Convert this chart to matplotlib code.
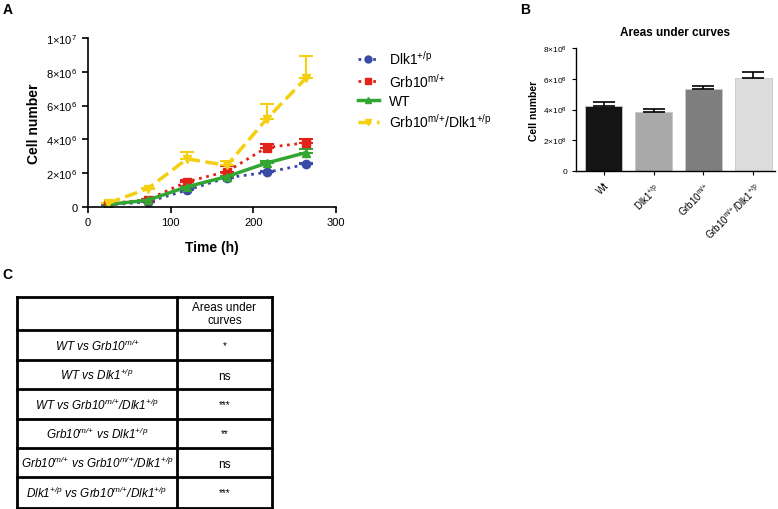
import matplotlib
matplotlib.use("Agg")
import matplotlib.pyplot as plt
from matplotlib.lines import Line2D
import numpy as np

plt.rcParams['font.family'] = ['Liberation Sans', 'DejaVu Sans']
plt.rcParams['mathtext.fontset'] = 'custom'
plt.rcParams['mathtext.rm'] = 'Liberation Sans'
plt.rcParams['mathtext.it'] = 'Liberation Sans:italic'
plt.rcParams['mathtext.bf'] = 'Liberation Sans:bold'
plt.rcParams['mathtext.default'] = 'regular'

# ---- data: panel A (growth curves) ----
time_h = [24, 72, 120, 168, 216, 264]
dlk1 = [0.12e6, 0.30e6, 1.00e6, 1.73e6, 2.05e6, 2.52e6]
dlk1_err = [0.0, 0.0, 0.05e6, 0.05e6, 0.08e6, 0.08e6]
grb10 = [0.20e6, 0.43e6, 1.50e6, 2.10e6, 3.52e6, 3.80e6]
grb10_err = [0.0, 0.05e6, 0.10e6, 0.30e6, 0.20e6, 0.22e6]
wt = [0.15e6, 0.40e6, 1.20e6, 1.80e6, 2.60e6, 3.22e6]
wt_err = [0.0, 0.0, 0.05e6, 0.05e6, 0.10e6, 0.20e6]
dko = [0.22e6, 1.08e6, 2.85e6, 2.46e6, 5.20e6, 7.64e6]
dko_err = [0.0, 0.05e6, 0.40e6, 0.25e6, 0.90e6, 1.30e6]

series_labels = ['Dlk1$^{+/p}$', 'Grb10$^{m/{+}}$', 'WT', 'Grb10$^{m/{+}}$/Dlk1$^{+/p}$']
a_yticks = [0, 2e6, 4e6, 6e6, 8e6, 1e7]
a_yticklabels = ['0', '2×10$^6$', '4×10$^6$', '6×10$^6$', '8×10$^6$', '1×10$^7$']

# ---- data: panel B (areas under curves) ----
auc_groups = ['Wt', 'Dlk1$^{+/p}$', 'Grb10$^{m/{+}}$', 'Grb10$^{m/{+}}$/Dlk1$^{+/p}$']
auc_values = [4.25e8, 3.86e8, 5.32e8, 6.04e8]
auc_err = [0.22e8, 0.17e8, 0.24e8, 0.40e8]
b_yticks = [0, 2e8, 4e8, 6e8, 8e8]
b_yticklabels = ['0', '2×10$^8$', '4×10$^8$', '6×10$^8$', '8×10$^8$']

# ---- data: panel C (table) ----
comparisons = [
    'WT vs Grb10$^{m/{+}}$',
    'WT vs Dlk1$^{+/p}$',
    'WT vs Grb10$^{m/{+}}$/Dlk1$^{+/p}$',
    'Grb10$^{m/{+}}$ vs Dlk1$^{+/p}$',
    'Grb10$^{m/{+}}$ vs Grb10$^{m/{+}}$/Dlk1$^{+/p}$',
    'Dlk1$^{+/p}$ vs Grb10$^{m/{+}}$/Dlk1$^{+/p}$',
]
significance = ['*', 'ns', '***', '**', 'ns', '***']

W, H = 778, 510
fig = plt.figure(figsize=(W / 100, H / 100), dpi=100)


def px_axes(x0, y0, x1, y1):
    # pixel box (top-left origin) -> figure axes
    return fig.add_axes([x0 / W, 1 - y1 / H, (x1 - x0) / W, (y1 - y0) / H])


# ================= Panel A =================
ax = px_axes(88, 39, 336, 208)
styles = [
    dict(color='#3a4aa6', ls=':', marker='o', lw=2.0, ms=6),
    dict(color='#e2231a', ls=':', marker='s', lw=2.0, ms=6),
    dict(color='#33a532', ls='-', marker='^', lw=2.5, ms=6),
    dict(color='#f5cf12', ls='--', marker='v', lw=2.5, ms=6),
]
for y, e, st, lab in zip([dlk1, grb10, wt, dko], [dlk1_err, grb10_err, wt_err, dko_err],
                         styles, series_labels):
    ax.errorbar(time_h, y, yerr=[np.zeros(len(e)), e], color=st['color'], ls=st['ls'],
                marker=st['marker'], lw=st['lw'], ms=st['ms'], capsize=5, elinewidth=1.5,
                capthick=1.5, label=lab)

ax.set_xlim(0, 300)
ax.set_ylim(0, 1e7)
ax.set_xticks([0, 100, 200, 300])
ax.set_yticks(a_yticks)
ax.set_yticklabels(a_yticklabels)
ax.tick_params(labelsize=8, width=1.2, length=4)
for s in ['top', 'right']:
    ax.spines[s].set_visible(False)
for s in ['left', 'bottom']:
    ax.spines[s].set_linewidth(1.2)
ax.set_xlabel('Time (h)', fontsize=10, fontweight='bold', labelpad=9)
ax.set_ylabel('Cell number', fontsize=10, fontweight='bold', labelpad=4)

leg_handles = [Line2D([0], [0], color=st['color'], ls=st['ls'], marker=st['marker'],
                      lw=st['lw'], ms=5) for st in styles]
fig.legend(leg_handles, series_labels, loc='upper left', bbox_to_anchor=(358 / W, 1 - 50 / H),
           frameon=False, fontsize=10, handlelength=1.5, handletextpad=0.7,
           labelspacing=0.32, borderpad=0, borderaxespad=0)

fig.text(3 / W, 1 - 3 / H, 'A', fontsize=10, fontweight='bold', va='top')

# ================= Panel B =================
bx = px_axes(576, 49, 775, 172)
bar_colors = ['#141414', '#a9a9a9', '#7f7f7f', '#dcdcdc']
xpos = np.arange(len(auc_groups))
bx.bar(xpos, auc_values, width=0.74, color=bar_colors, edgecolor='#c8c8c8', linewidth=0.6)
bx.errorbar(xpos, auc_values, yerr=[np.zeros(len(auc_err)), auc_err], fmt='none',
            ecolor='black', elinewidth=1.2, capsize=8, capthick=1.2)
bx.set_xlim(-0.55, 3.43)
bx.set_ylim(0, 8e8)
bx.set_yticks(b_yticks)
bx.set_yticklabels(b_yticklabels)
bx.set_xticks(xpos)
bx.set_xticklabels(auc_groups, rotation=45, ha='right', rotation_mode='anchor')
bx.tick_params(labelsize=6, width=0.8, length=3)
bx.tick_params(axis='x', labelsize=7)
for s in ['top', 'right']:
    bx.spines[s].set_visible(False)
for s in ['left', 'bottom']:
    bx.spines[s].set_linewidth(1.0)
bx.set_title('Areas under curves', fontsize=8.5, fontweight='bold', pad=9)
bx.set_ylabel('Cell number', fontsize=7.5, fontweight='bold', labelpad=3)

fig.text(520 / W, 1 - 3 / H, 'B', fontsize=10, fontweight='bold', va='top')

# ================= Panel C =================
fig.text(2 / W, 1 - 268 / H, 'C', fontsize=10, fontweight='bold', va='top')
cx = px_axes(17, 298, 272, 509)
cx.set_xlim(17, 272)
cx.set_ylim(509, 298)
cx.axis('off')
row_edges = [298, 331, 361, 390, 420, 449, 478, 509]
col_edges = [17, 177, 272]
for y in row_edges:
    cx.plot([col_edges[0], col_edges[-1]], [y, y], color='black', lw=2.0,
            solid_capstyle='projecting', clip_on=False)
for x in col_edges:
    cx.plot([x, x], [row_edges[0], row_edges[-1]], color='black', lw=2.0,
            solid_capstyle='projecting', clip_on=False)
c1 = (col_edges[0] + col_edges[1]) / 2
c2 = (col_edges[1] + col_edges[2]) / 2
cx.text(c2, (row_edges[0] + row_edges[1]) / 2, 'Areas under\ncurves', ha='center',
        va='center', fontsize=8.5, linespacing=1.05)
for i, (comp, sig) in enumerate(zip(comparisons, significance)):
    yc = (row_edges[i + 1] + row_edges[i + 2]) / 2
    cx.text(c1, yc, comp, ha='center', va='center', fontsize=8.5, style='italic')
    cx.text(c2, yc + (1.5 if sig == 'ns' else 0), sig, ha='center', va='center',
            fontsize=8.5 if sig == 'ns' else 7)

fig.savefig('out.png', dpi=100)
